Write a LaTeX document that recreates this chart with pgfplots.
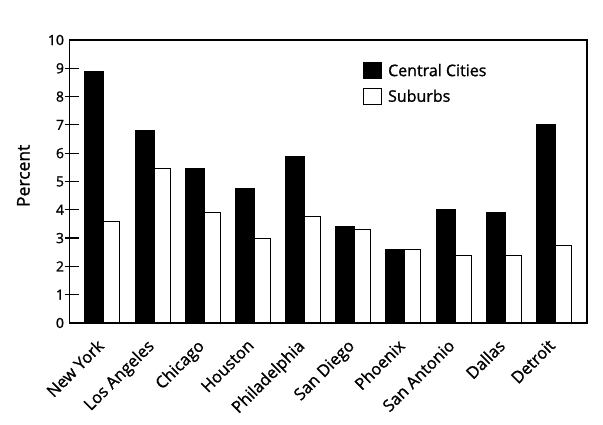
\documentclass[border=0pt]{standalone}
\usepackage{pgfplots}
\pgfplotsset{compat=1.18}
\usepackage{fontspec}
\setmainfont{Open Sans}[FakeBold=1.2]
\begin{document}
\begin{tikzpicture}[x=1pt,y=1pt]
\path[use as bounding box] (0,0) rectangle (603,425);
\begin{axis}[
  at={(69.5pt,102pt)}, anchor=south west,
  width=517.5pt, height=283pt, scale only axis,
  ymin=0, ymax=10, ytick={1,2,...,9},
  extra y ticks={0,10}, extra y tick style={major tick length=0pt},
  xmin=-0.687, xmax=9.63,
  xtick={0,1,...,9},
  xticklabels={New York,Los Angeles,Chicago,Houston,Philadelphia,San Diego,Phoenix,San Antonio,Dallas,Detroit},
  x tick style={draw=none},
  ytick pos=left,
  ytick align=inside,
  major tick length=14pt,
  ytick style={line width=1.2pt, black, xshift=-5pt},
  axis line style={line width=1.2pt},
  /pgf/number format/assume math mode=true,
  yticklabel style={font=\fontsize{14}{16}\selectfont, xshift=-2pt},
  xticklabel style={font=\fontsize{16.5}{18}\selectfont, xshift=-8pt, yshift=-15pt, rotate=45, anchor=north east, inner sep=0pt},
  ylabel={Percent},
  ylabel style={font=\fontsize{17.5}{19}\selectfont, at={(axis description cs:-0.089,0.52)}, anchor=center},
  legend style={at={(rel axis cs:0.567,0.923)}, anchor=north west, draw=none, fill=none,
    font=\fontsize{16}{18}\selectfont, row sep=8pt, column sep=4pt, inner sep=0pt},
  legend cell align=left,
  legend image code/.code={\draw[#1, line width=1pt] (0pt,-8pt) rectangle (18pt,8pt);},
]
\addplot[ybar, bar width=19pt, bar shift=-9.5pt, fill=black, draw=black, line width=1pt] coordinates {
(0,8.9) (1,6.8) (2,5.45) (3,4.75) (4,5.9) (5,3.4) (6,2.6) (7,4.0) (8,3.9) (9,7.0)};
\addlegendentry{Central Cities}
\addplot[ybar, bar width=16pt, bar shift=8pt, fill=white, draw=black, line width=1pt] coordinates {
(0,3.6) (1,5.45) (2,3.9) (3,3.0) (4,3.75) (5,3.3) (6,2.6) (7,2.4) (8,2.38) (9,2.75)};
\addlegendentry{Suburbs}
\end{axis}
\end{tikzpicture}
\end{document}
